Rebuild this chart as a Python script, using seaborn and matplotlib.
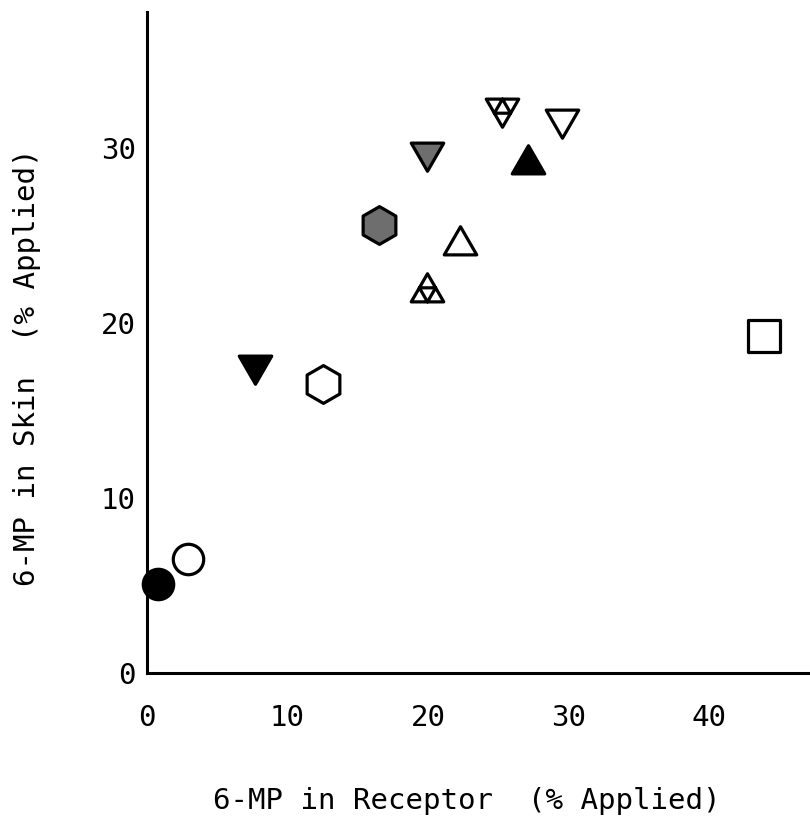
import numpy as np
import pandas as pd
import matplotlib
matplotlib.use("Agg")
import matplotlib.pyplot as plt
from matplotlib.path import Path
import seaborn as sns

# 6-MP recovered in receptor fluid vs. retained in skin, one point per vehicle
receptor = [0.8, 2.95, 7.7, 12.5, 16.5, 19.95, 19.9, 22.3, 25.3, 27.1, 29.55, 43.9]
skin = [5.1, 6.5, 17.6, 16.5, 25.6, 29.8, 21.8, 24.5, 32.3, 29.1, 31.7, 19.3]
symbol = ["circle", "circle", "tri_down", "hexagon", "hexagon", "tri_down",
          "triforce_up", "tri_up", "triforce_down", "tri_up", "tri_down", "square"]
fill = ["black", "white", "black", "white", "shaded", "shaded",
        "white", "white", "white", "black", "white", "white"]

x_ticks = [0, 10, 20, 30, 40]
y_ticks = [0, 10, 20, 30]


def triangle(up=True, inner=False):
    s = 1 if up else -1
    outer = [(0, s * 1.0), (-0.866, -s * 0.5), (0.866, -s * 0.5)]
    verts = outer + [outer[0]]
    codes = [Path.MOVETO, Path.LINETO, Path.LINETO, Path.CLOSEPOLY]
    if inner:
        mid = [(-0.433, s * 0.25), (0.433, s * 0.25), (0, -s * 0.5)]
        verts += mid + [mid[0]]
        codes += [Path.MOVETO, Path.LINETO, Path.LINETO, Path.CLOSEPOLY]
    return Path(verts, codes)


marker_shapes = {
    "circle": ("o", 480),
    "hexagon": ("h", 740),
    "square": ("s", 520),
    "tri_up": (triangle(True), 730),
    "tri_down": (triangle(False), 730),
    "triforce_up": (triangle(True, True), 730),
    "triforce_down": (triangle(False, True), 730),
}
fill_colors = {"black": "black", "white": "white", "shaded": "#6e6e6e"}

df = pd.DataFrame({"receptor": receptor, "skin": skin,
                   "symbol": symbol, "fill": fill})

sns.set_style("white")
plt.rcParams["font.family"] = ["DejaVu Sans Mono", "DejaVu Sans"]
plt.rcParams["text.color"] = "black"
plt.rcParams["axes.labelcolor"] = "black"

fig = plt.figure(figsize=(8.1, 8.32), dpi=100)
ax = fig.add_axes([147 / 810, (832 - 673) / 832, (810 - 147) / 810, (673 - 12) / 832])

for _, row in df.iterrows():
    m, size = marker_shapes[row["symbol"]]
    sns.scatterplot(x=[row["receptor"]], y=[row["skin"]], ax=ax, marker=m, s=size,
                    color=fill_colors[row["fill"]], edgecolor="black",
                    linewidth=2.3, legend=False, zorder=3, clip_on=False)

ax.set_xlim(0, 47.2)
ax.set_ylim(0, 37.8)
ax.set_xticks(x_ticks)
ax.set_yticks(y_ticks)
ax.set_xticklabels([str(v) for v in x_ticks])
ax.set_yticklabels([str(v) for v in y_ticks])

for side in ("top", "right"):
    ax.spines[side].set_visible(False)
for side in ("left", "bottom"):
    ax.spines[side].set_linewidth(2.2)
    ax.spines[side].set_color("black")

ax.tick_params(axis="both", direction="in", length=14.5, width=1.8,
               colors="black", labelsize=21)
ax.tick_params(axis="x", pad=22)
ax.tick_params(axis="y", pad=8)

ax.set_xlabel("6-MP in Receptor  (% Applied)", fontsize=21)
ax.set_ylabel("6-MP in Skin  (% Applied)", fontsize=21)
ax.xaxis.set_label_coords(0.482, -0.172)
ax.yaxis.set_label_coords(-0.16, 0.462)
ax.grid(False)

fig.savefig("out.png", dpi=100, facecolor="white")
